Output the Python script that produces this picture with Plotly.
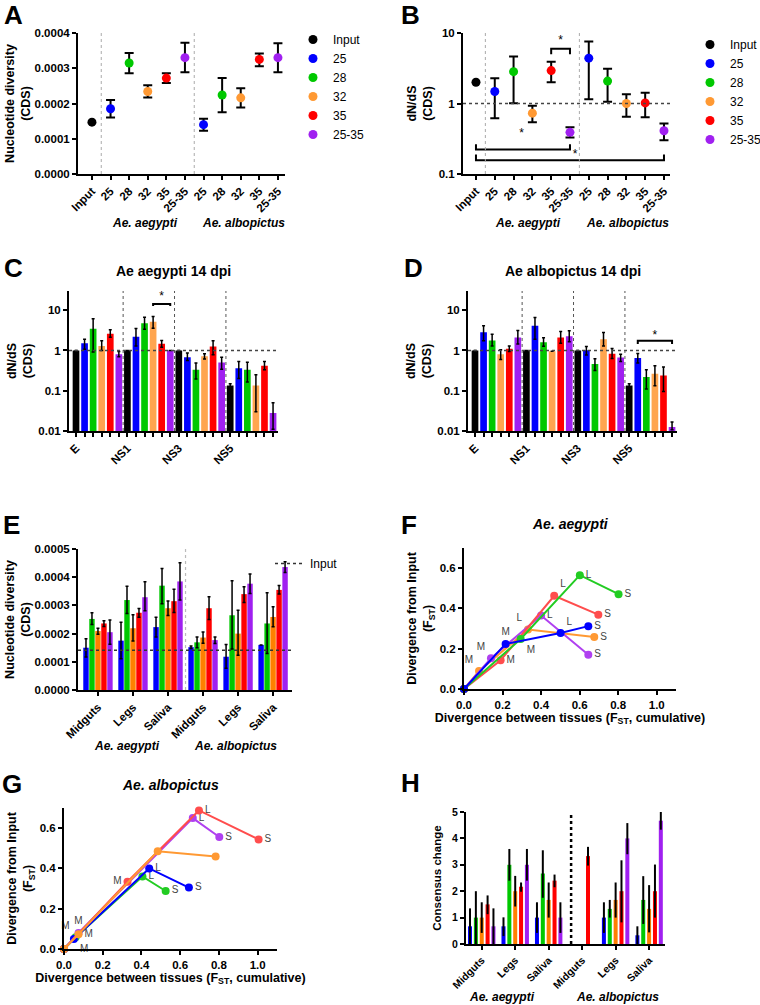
import math
import plotly.graph_objects as go

W, H = 760, 1005
FONT = "Arial, 'Liberation Sans', sans-serif"

# ---------------- data ----------------
temps = ["25", "28", "32", "35", "25-35"]

# A: nucleotide diversity (CDS)
a_input = 0.000147
a_aeg = [0.000185, 0.000315, 0.000234, 0.000272, 0.000330]
a_aeg_hi = [0.000210, 0.000343, 0.000252, 0.000286, 0.000372]
a_aeg_lo = [0.000160, 0.000286, 0.000217, 0.000258, 0.000289]
a_alb = [0.000140, 0.000224, 0.000216, 0.000325, 0.000330]
a_alb_hi = [0.000157, 0.000272, 0.000243, 0.000342, 0.000371]
a_alb_lo = [0.000123, 0.000175, 0.000189, 0.000306, 0.000289]

# B: dN/dS (CDS)
b_input = 2.0
b_aeg = [1.48, 2.83, 0.73, 2.93, 0.39]
b_aeg_hi = [2.28, 4.64, 0.93, 3.90, 0.46]
b_aeg_lo = [0.62, 1.01, 0.54, 2.00, 0.33]
b_alb = [4.40, 2.08, 1.00, 1.02, 0.41]
b_alb_hi = [7.60, 3.10, 1.35, 1.42, 0.52]
b_alb_lo = [1.15, 1.06, 0.65, 0.64, 0.30]

# C / D: dN/dS per gene at 14 dpi
genes = ["E", "NS1", "NS3", "NS5"]
groups6 = ["Input", "25", "28", "32", "35", "25-35"]
c_vals = [
    [1.0, 1.0, 1.0, 0.135],
    [1.52, 2.18, 0.68, 0.36],
    [3.44, 4.76, 0.33, 0.33],
    [1.30, 5.20, 0.72, 0.135],
    [2.59, 1.46, 1.26, 0.42],
    [0.81, 1.0, 0.50, 0.028],
]
c_hi = [
    [1.0, 1.0, 1.0, 0.149],
    [1.90, 3.50, 0.86, 0.53],
    [6.10, 6.70, 0.49, 0.51],
    [1.74, 6.96, 0.83, 0.25],
    [3.26, 1.77, 1.74, 0.53],
    [0.94, 1.0, 0.68, 0.050],
]
c_lo = [
    [1.0, 1.0, 1.0, 0.123],
    [1.08, 1.30, 0.56, 0.20],
    [0.91, 3.38, 0.195, 0.164],
    [1.00, 3.58, 0.61, 0.030],
    [2.14, 1.21, 0.78, 0.33],
    [0.70, 1.0, 0.34, 0.011],
]
d_vals = [
    [1.0, 1.0, 1.0, 0.135],
    [2.85, 4.09, 1.02, 0.65],
    [1.77, 1.61, 0.46, 0.218],
    [0.81, 0.96, 1.90, 0.264],
    [1.10, 2.10, 0.83, 0.24],
    [2.10, 2.27, 0.67, 0.0126],
]
d_hi = [
    [1.0, 1.0, 1.0, 0.150],
    [4.10, 6.60, 1.26, 0.84],
    [2.54, 2.06, 0.62, 0.33],
    [1.04, 0.96, 2.80, 0.42],
    [1.30, 2.96, 1.12, 0.39],
    [3.13, 3.07, 0.81, 0.0168],
]
d_lo = [
    [1.0, 1.0, 1.0, 0.122],
    [1.74, 1.90, 0.77, 0.49],
    [1.30, 1.28, 0.32, 0.11],
    [0.60, 0.96, 1.30, 0.133],
    [0.94, 1.52, 0.63, 0.096],
    [1.44, 1.64, 0.53, 0.0108],
]

# E: nucleotide diversity per tissue (x 1e-4)
tissues = ["Midguts", "Legs", "Saliva", "Midguts", "Legs", "Saliva"]
e_scale = 1e-4
e_input = 1.41
e_vals = [
    [1.50, 1.75, 2.23, 1.52, 1.18, 1.60],
    [2.52, 3.19, 3.70, 1.69, 2.65, 2.36],
    [2.09, 2.19, 2.90, 1.86, 2.00, 2.59],
    [2.36, 2.74, 3.15, 2.90, 3.40, 3.55],
    [2.05, 3.29, 3.85, 1.77, 3.77, 4.36],
]
e_hi = [
    [1.82, 2.40, 2.58, 1.56, 1.61, 1.60],
    [2.74, 3.68, 4.31, 1.88, 3.87, 3.45],
    [2.19, 2.67, 3.16, 2.06, 2.83, 2.95],
    [2.46, 2.89, 3.57, 3.31, 3.66, 3.71],
    [2.48, 3.84, 4.51, 1.88, 4.11, 4.55],
]
e_lo = [
    [1.17, 1.11, 1.88, 1.47, 0.77, 1.60],
    [2.32, 2.71, 3.06, 1.50, 1.45, 1.29],
    [1.98, 1.74, 2.64, 1.66, 1.23, 2.24],
    [2.25, 2.58, 2.75, 2.50, 3.10, 3.40],
    [1.62, 2.81, 3.19, 1.65, 3.42, 4.17],
]

# F / G: divergence trajectories (origin, M, L, S)
f_x = {
    "orange": [0, 0.078, 0.332, 0.676],
    "purple": [0, 0.14, 0.40, 0.645],
    "red": [0, 0.19, 0.468, 0.697],
    "green": [0, 0.294, 0.601, 0.802],
    "blue": [0, 0.216, 0.501, 0.645],
}
f_y = {
    "orange": [0, 0.089, 0.295, 0.258],
    "purple": [0, 0.153, 0.365, 0.170],
    "red": [0, 0.143, 0.463, 0.369],
    "green": [0, 0.248, 0.565, 0.471],
    "blue": [0, 0.224, 0.278, 0.312],
}
g_x = {
    "green": [0, 0.06, 0.405, 0.525],
    "blue": [0, 0.051, 0.44, 0.645],
    "purple": [0, 0.075, 0.665, 0.802],
    "red": [0, 0.328, 0.697, 1.005],
    "orange": [0, 0.075, 0.484, 0.783],
}
g_y = {
    "green": [0, 0.058, 0.36, 0.288],
    "blue": [0, 0.05, 0.40, 0.305],
    "purple": [0, 0.08, 0.650, 0.556],
    "red": [0, 0.334, 0.688, 0.544],
    "orange": [0, 0.073, 0.485, 0.459],
}

# H: consensus change
h_vals = [
    [0.67, 0.67, 1.0, 0, 1.0, 0.33],
    [1.0, 3.0, 2.67, 0, 1.33, 1.67],
    [1.0, 2.0, 1.67, 0, 1.67, 1.33],
    [1.5, 2.17, 2.4, 3.33, 2.0, 2.0],
    [0.67, 3.0, 1.0, 0, 4.0, 4.67],
]
h_hi = [
    [1.35, 1.01, 1.58, 0, 1.58, 0.67],
    [2.0, 3.6, 3.55, 0, 1.67, 2.57],
    [1.58, 2.58, 2.33, 0, 2.33, 2.23],
    [1.84, 2.33, 2.63, 3.68, 3.17, 3.01],
    [1.35, 3.6, 1.58, 0, 4.58, 5.0],
]
h_lo = [
    [0, 0.30, 0.42, 0, 0.42, 0],
    [0, 2.4, 1.75, 0, 1.0, 0.76],
    [0.42, 1.42, 1.0, 0, 1.0, 0.44],
    [1.13, 1.98, 2.15, 2.97, 0.82, 1.0],
    [0, 2.4, 0.42, 0, 3.4, 4.33],
]

# ---------------- styling ----------------
BLUE, GREEN, RED, PURPLE = "#0000FF", "#00C800", "#FF0000", "#A020F0"
dot_cols = ["#000000", BLUE, GREEN, "#FF9933", RED, PURPLE]
cd_cols = ["#000000", BLUE, GREEN, "#FFA54F", RED, PURPLE]
eh_cols = [BLUE, GREEN, "#FF8000", RED, PURPLE]
line_cols = {"blue": BLUE, "green": "#22CC22", "orange": "#FF9933",
             "red": "#FF4D4D", "purple": "#B040F0"}

TICKF = dict(family=FONT, size=11.5, color="black", weight="bold")
TITLEF = dict(family=FONT, size=12.5, color="black", weight="bold")


def xax(left, right, anchor, **kw):
    d = dict(domain=[left / W, right / W], anchor=anchor, showline=True, linewidth=2,
             linecolor="black", ticks="outside", ticklen=4, tickwidth=2, tickcolor="black",
             showgrid=False, zeroline=False, tickfont=TICKF, automargin=False)
    d.update(kw)
    return d


def yax(top, bottom, anchor, **kw):
    d = dict(domain=[1 - bottom / H, 1 - top / H], anchor=anchor, showline=True, linewidth=2,
             linecolor="black", ticks="outside", ticklen=4, tickwidth=2, tickcolor="black",
             showgrid=False, zeroline=False, tickfont=TICKF, automargin=False)
    d.update(kw)
    return d


def err(v, hi, lo, w, t):
    return dict(type="data", symmetric=False, array=[h - a for a, h in zip(v, hi)],
                arrayminus=[a - l for a, l in zip(v, lo)], color="black", thickness=t, width=w)


fig = go.Figure()
annotations = []
shapes = []


def note(x, y, text, size=12):
    annotations.append(dict(x=x / W, y=1 - y / H, xref="paper", yref="paper", text=text,
                            xanchor="center", yanchor="middle", showarrow=False,
                            font=dict(family=FONT, size=size, color="black")))


def vdot(xref, x, color, width):
    shapes.append(dict(type="line", xref=xref, yref=xref.replace("x", "y") + " domain",
                       x0=x, x1=x, y0=0, y1=1, line=dict(color=color, width=width, dash="dot")))


def hline(xa, ya, xr, y, **kw):
    fig.add_trace(go.Scatter(x=xr, y=[y, y], mode="lines", xaxis=xa, yaxis=ya,
                             line=dict(color="#444", width=1.5, dash="dot"),
                             hoverinfo="skip", **kw))


def bracket(xa, ya, xs, ys):
    fig.add_trace(go.Scatter(x=xs, y=ys, mode="lines", xaxis=xa, yaxis=ya, showlegend=False,
                             line=dict(color="black", width=2), hoverinfo="skip"))


def star(xa, ya, x, y):
    fig.add_trace(go.Scatter(x=[x], y=[y], mode="text", text=["*"], xaxis=xa, yaxis=ya,
                             showlegend=False, textfont=dict(family=FONT, size=12, color="black"),
                             cliponaxis=False, hoverinfo="skip"))


# ---------------- A & B: dot plots ----------------
for xa, ya, leg, inp, aeg, ahi, alo, alb, bhi, blo in [
    ("x", "y", "legend", a_input, a_aeg, a_aeg_hi, a_aeg_lo, a_alb, a_alb_hi, a_alb_lo),
    ("x2", "y2", "legend2", b_input, b_aeg, b_aeg_hi, b_aeg_lo, b_alb, b_alb_hi, b_alb_lo),
]:
    fig.add_trace(go.Scatter(x=[0], y=[inp], mode="markers", name="Input", legend=leg,
                             marker=dict(color="black", size=9), xaxis=xa, yaxis=ya,
                             cliponaxis=False))
    for j, t in enumerate(temps):
        v = [aeg[j], alb[j]]
        fig.add_trace(go.Scatter(
            x=[1 + j, 6 + j], y=v, mode="markers", name=t, legend=leg,
            marker=dict(color=dot_cols[j + 1], size=9), xaxis=xa, yaxis=ya, cliponaxis=False,
            error_y=err(v, [ahi[j], bhi[j]], [alo[j], blo[j]], 4.5, 2)))

hline("x2", "y2", [-0.69, 10.32], 1, showlegend=False)
bracket("x2", "y2", [4, 4, 5, 5], [5.0, 6.0, 6.0, 5.0])
bracket("x2", "y2", [0, 0, 5, 5], [0.265, 0.223, 0.223, 0.265])
bracket("x2", "y2", [0, 0, 10, 10], [0.189, 0.157, 0.157, 0.189])
star("x2", "y2", 4.5, 7.7)
star("x2", "y2", 2.43, 0.37)
star("x2", "y2", 5.27, 0.185)
for xr in ["x", "x2"]:
    vdot(xr, 0.5, "#aaaaaa", 1)
    vdot(xr, 5.5, "#aaaaaa", 1)

# ---------------- C & D: grouped bars (log) ----------------
n6, s6, w6 = 6, 1 / 6, 0.78 / 6
for xa, ya, vals, his, los in [("x3", "y3", c_vals, c_hi, c_lo), ("x4", "y4", d_vals, d_hi, d_lo)]:
    for j in range(n6):
        fig.add_trace(go.Bar(
            x=list(range(len(genes))), y=vals[j], xaxis=xa, yaxis=ya, showlegend=False,
            offset=(j - (n6 - 1) / 2) * s6 - w6 / 2, width=w6,
            marker=dict(color=cd_cols[j], line=dict(width=0)),
            error_y=err(vals[j], his[j], los[j], 1.5, 1.5)))
    hline(xa, ya, [-0.553, 3.513], 1, showlegend=False)
    for xv in [0.5, 1.5, 2.5]:
        vdot(xa, xv, "#555555", 1)

bracket("x3", "y3", [1 + 0.5 / 6] * 2 + [1 + 2.5 / 6] * 2, [12.8, 14.3, 14.3, 12.8])
star("x3", "y3", 1 + 1.5 / 6, 21)
bracket("x4", "y4", [3 - 1.5 / 6] * 2 + [3 + 2.5 / 6] * 2, [1.44, 1.74, 1.74, 1.44])
star("x4", "y4", 3 + 0.5 / 6, 2.35)

cd_tv = [g + (j - 2.5) / 6 for g in range(len(genes)) for j in range(n6)]
cd_tt = [genes[g] if j == 0 else "" for g in range(len(genes)) for j in range(n6)]

# ---------------- E: grouped bars ----------------
n5 = 5
sE, wE = 0.171, 0.155
for j in range(n5):
    v = [a * e_scale for a in e_vals[j]]
    fig.add_trace(go.Bar(
        x=list(range(6)), y=v, xaxis="x5", yaxis="y5", showlegend=False,
        offset=(j - 2) * sE - wE / 2, width=wE,
        marker=dict(color=eh_cols[j], line=dict(width=0)),
        error_y=err(v, [a * e_scale for a in e_hi[j]], [a * e_scale for a in e_lo[j]], 1.5, 1.5)))
fig.add_trace(go.Scatter(x=[-0.57, 5.54], y=[e_input * e_scale] * 2, mode="lines", name="Input",
                         legend="legend3", xaxis="x5", yaxis="y5",
                         line=dict(color="#333", width=1.5, dash="dot"), hoverinfo="skip"))
vdot("x5", 2.5, "#bbbbbb", 1.2)

# ---------------- F & G: trajectories ----------------
C0 = "middle center"
f_pos = {
    "orange": [C0, "top left", "top left", "middle right"],
    "purple": [C0, "top left", "middle right", "middle right"],
    "red": [C0, "middle right", "top right", "middle right"],
    "green": [C0, "bottom right", "middle right", "middle right"],
    "blue": [C0, "top center", "top right", "middle right"],
}
g_pos = {
    "green": [C0, "top left", "middle right", "middle right"],
    "blue": [C0, "bottom right", "middle right", "middle right"],
    "purple": [C0, "top center", "middle right", "middle right"],
    "red": [C0, "middle left", "middle right", "middle right"],
    "orange": [C0, "middle right", "middle right", "middle right"],
}
g_text = {"orange": ["", "M", "", ""]}
for xa, ya, xs, ys, pos, txt in [("x6", "y6", f_x, f_y, f_pos, {}),
                                 ("x7", "y7", g_x, g_y, g_pos, g_text)]:
    for c in xs:
        fig.add_trace(go.Scatter(
            x=xs[c], y=ys[c], mode="lines+markers+text", xaxis=xa, yaxis=ya, showlegend=False,
            text=txt.get(c, ["", "M", "L", "S"]), textposition=pos[c],
            textfont=dict(family=FONT, size=10, color="#444"),
            line=dict(color=line_cols[c], width=2), marker=dict(color=line_cols[c], size=8),
            cliponaxis=False))

# ---------------- H: consensus change ----------------
sH, wH = 0.175, 0.12
for j in range(n5):
    fig.add_trace(go.Bar(
        x=list(range(6)), y=h_vals[j], xaxis="x8", yaxis="y8", showlegend=False,
        offset=(j - 2) * sH - wH / 2, width=wH,
        marker=dict(color=eh_cols[j], line=dict(width=0)),
        error_y=err(h_vals[j], h_hi[j], h_lo[j], 0, 2)))
vdot("x8", 2.67, "black", 2.5)

# ---------------- text ----------------
for letter, x, y in [("A", 14, 15), ("B", 411, 15), ("C", 13, 268), ("D", 413, 268),
                     ("E", 11, 525), ("F", 409, 525), ("G", 12, 784), ("H", 410, 783)]:
    note(x, y, "<b>%s</b>" % letter, size=26)

for x, y, t in [(145, 223, "Ae. aegypti"), (243, 223, "Ae. albopictus"),
                (528, 223, "Ae. aegypti"), (627, 223, "Ae. albopictus"),
                (127, 746, "Ae. aegypti"), (235, 746, "Ae. albopictus"),
                (502, 997, "Ae. aegypti"), (617, 997, "Ae. albopictus")]:
    note(x, y, "<b><i>%s</i></b>" % t, size=12)

note(173, 271, "<b>Ae aegypti 14 dpi</b>", size=14)
note(573, 271, "<b>Ae albopictus 14 dpi</b>", size=14)
note(570, 524, "<b><i>Ae. aegypti</i></b>", size=14)
note(170, 785, "<b><i>Ae. albopictus</i></b>", size=14)

# ---------------- axes ----------------
dot_tt = ["Input"] + temps + temps
fst = "Divergence between tissues (F<sub>ST</sub>, cumulative)"
fsty = "Divergence from Input<br>(F<sub>ST</sub>)"
legend_style = dict(xanchor="left", yanchor="top", bgcolor="rgba(0,0,0,0)",
                    font=dict(family=FONT, size=12, color="black"), tracegroupgap=0)
HTICKF = dict(family=FONT, size=10.5, color="black", weight="bold")

fig.update_layout(
    width=W, height=H, margin=dict(l=0, r=0, t=0, b=0, autoexpand=False),
    paper_bgcolor="white", plot_bgcolor="white", barmode="overlay",
    annotations=annotations, shapes=shapes,
    legend=dict(x=293 / W, y=1 - 25 / H, **legend_style),
    legend2=dict(x=690 / W, y=1 - 30 / H, **legend_style),
    legend3=dict(x=270 / W, y=1 - 549 / H, **legend_style),
    xaxis=xax(78, 285, "y", range=[-0.75, 10.38], tickvals=list(range(11)),
              ticktext=dot_tt, tickangle=-45),
    yaxis=yax(33, 174, "x", range=[0, 0.0004], tickvals=[0, 0.0001, 0.0002, 0.0003, 0.0004],
              tickformat=".4f", title=dict(text="Nucleotide diversity<br>(CDS)", font=TITLEF, standoff=1)),
    xaxis2=xax(463, 670, "y2", range=[-0.69, 10.32], tickvals=list(range(11)),
               ticktext=dot_tt, tickangle=-45),
    yaxis2=yax(33, 174, "x2", type="log", range=[-1, 1], tickvals=[0.1, 1, 10],
               ticktext=["0.1", "1", "10"], title=dict(text="dN/dS<br>(CDS)", font=TITLEF, standoff=3)),
    xaxis3=xax(69, 278, "y3", range=[-0.553, 3.513], tickvals=cd_tv, ticktext=cd_tt, tickangle=-45),
    yaxis3=yax(291, 431, "x3", type="log", range=[-2, math.log10(30)], tickvals=[0.01, 0.1, 1, 10],
               ticktext=["0.01", "0.1", "1", "10"], title=dict(text="dN/dS<br>(CDS)", font=TITLEF, standoff=3)),
    xaxis4=xax(468, 677, "y4", range=[-0.553, 3.513], tickvals=cd_tv, ticktext=cd_tt, tickangle=-45),
    yaxis4=yax(291, 431, "x4", type="log", range=[-2, math.log10(30)], tickvals=[0.01, 0.1, 1, 10],
               ticktext=["0.01", "0.1", "1", "10"], title=dict(text="dN/dS<br>(CDS)", font=TITLEF, standoff=3)),
    xaxis5=xax(78, 292, "y5", range=[-0.57, 5.54], tickvals=list(range(6)), ticktext=tissues,
               tickangle=-45),
    yaxis5=yax(549, 690, "x5", range=[0, 0.0005], tickvals=[0, 0.0001, 0.0002, 0.0003, 0.0004, 0.0005],
               tickformat=".4f", title=dict(text="Nucleotide diversity<br>(CDS)", font=TITLEF, standoff=1)),
    xaxis6=xax(464, 676, "y6", range=[0, 1.1], tickvals=[0, 0.2, 0.4, 0.6, 0.8, 1.0], tickformat=".1f",
               title=dict(text=fst, font=TITLEF, standoff=3)),
    yaxis6=yax(548, 689, "x6", range=[0, 0.7], tickvals=[0, 0.2, 0.4, 0.6], tickformat=".1f",
               title=dict(text=fsty, font=TITLEF, standoff=4)),
    xaxis7=xax(64, 277, "y7", range=[0, 1.1], tickvals=[0, 0.2, 0.4, 0.6, 0.8, 1.0], tickformat=".1f",
               title=dict(text=fst, font=TITLEF, standoff=3)),
    yaxis7=yax(808, 949, "x7", range=[0, 0.7], tickvals=[0, 0.2, 0.4, 0.6], tickformat=".1f",
               title=dict(text=fsty, font=TITLEF, standoff=4)),
    xaxis8=xax(466, 665, "y8", range=[-0.47, 5.475], tickvals=list(range(6)), ticktext=tissues,
               tickangle=-45, tickfont=HTICKF),
    yaxis8=yax(812, 944, "x8", range=[0, 5], tickvals=list(range(6)), tickfont=HTICKF,
               title=dict(text="Consensus change", font=dict(family=FONT, size=11.5, color="black",
                                                             weight="bold"), standoff=8)),
)

# the page body has a default 8px margin; drop it so the figure sits at the window corner
fig.write_html("out.html", config={"displayModeBar": False},
               post_script="document.body.style.margin='0';")
